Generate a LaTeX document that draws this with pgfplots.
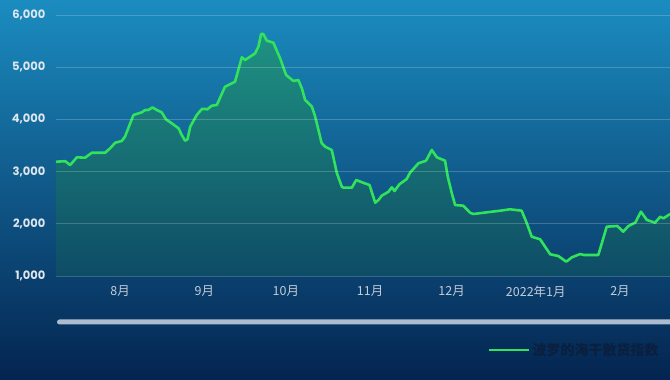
\documentclass[border=0pt]{standalone}
\usepackage{fontspec}
\setmainfont{Poppins}
\newfontfamily\cjk{Noto Sans CJK SC}
\usepackage{pgfplots}
\pgfplotsset{compat=1.18}
\usepackage{pgfplotstable}
\definecolor{bgtop}{RGB}{27,140,192}
\definecolor{bgbot}{RGB}{4,36,80}
\definecolor{areatop}{RGB}{31,146,130}
\definecolor{areabot}{RGB}{14,76,102}
\definecolor{lgreen}{RGB}{48,226,92}
\definecolor{ylab}{RGB}{222,230,238}
\definecolor{xlab}{RGB}{196,204,214}
\definecolor{scroll}{RGB}{172,188,208}
\definecolor{legtext}{RGB}{11,31,62}
\pgfplotstableread{
x y
7.4 3180
7.7 3190
10.8 3200
12.6 3126
15.1 3274
18.1 3266
20.6 3362
25.5 3362
27.3 3446
29.2 3554
31.6 3586
32.8 3670
35.9 4084
39.0 4136
40.2 4180
41.4 4180
42.9 4230
44.5 4180
46.3 4136
47.9 4000
50.0 3925
52.5 3830
53.7 3700
54.9 3592
55.8 3618
56.8 3860
59.2 4084
61.1 4200
62.3 4200
63.1 4193
64.7 4262
66.6 4276
69.6 4626
73.3 4722
75.8 5190
77.0 5138
80.7 5266
81.9 5393
82.9 5636
83.7 5636
85.0 5508
87.4 5470
89.9 5170
92.1 4850
94.8 4736
96.6 4755
97.9 4595
99.1 4372
101.6 4243
102.8 4052
105.2 3542
106.5 3477
108.9 3414
110.8 2967
112.6 2711
113.2 2692
116.3 2692
117.9 2839
120.0 2795
122.8 2743
124.9 2404
126.1 2456
127.3 2538
129.8 2615
131.0 2699
132.0 2628
133.8 2757
136.5 2858
137.7 2979
140.8 3159
143.6 3209
145.7 3414
147.6 3274
150.6 3209
151.6 2902
153.1 2584
154.3 2360
157.3 2347
159.8 2213
161.0 2188
170.9 2251
174.5 2278
178.8 2251
180.7 2010
182.5 1753
185.6 1703
189.3 1416
192.3 1383
195.2 1274
197.3 1358
200.3 1421
201.8 1402
207.0 1402
208.3 1626
210.1 1945
214.0 1958
216.2 1849
218.1 1958
220.6 2021
222.7 2232
224.9 2073
227.9 2021
229.8 2136
231.0 2105
233.4 2188
}\bdi
\begin{document}
\begin{tikzpicture}
\useasboundingbox (0,0) rectangle (670pt,380pt);
\shade[top color=bgtop, bottom color=bgbot] (0,0) rectangle (670pt,380pt);
\fill[scroll, rounded corners=2.5pt] (57pt,55.5pt) rectangle (676pt,60.5pt);
\begin{axis}[
  at={(56pt,104pt)}, anchor=south west,
  scale only axis, width=614pt, height=261pt,
  xmin=7.4, xmax=233.4, ymin=1000, ymax=6000,
  ytick={1000,2000,3000,4000,5000,6000},
  xtick={31,62,92,123,153,184,215},
  xticklabels={8月,9月,10月,11月,12月,2022年1月,2月},
  axis line style={draw=none},
  major tick length=0pt,
  ymajorgrids,
  grid style={white, opacity=0.2, line width=0.8pt},
  axis on top,
  /pgf/number format/assume math mode=true,
  /pgf/number format/1000 sep={,},
  yticklabel style={font=\bfseries\fontsize{11.5}{13}\selectfont, text=ylab, xshift=-7pt},
  xticklabel style={font=\cjk\fontsize{12.5}{14}\selectfont, text=xlab, yshift=-6pt},
  legend style={draw=none, fill=none, at={(0.99,-0.283)}, anchor=east,
    font=\cjk\bfseries\fontsize{14}{16}\selectfont, text=legtext},
  legend image code/.code={\draw[#1] (-6pt,0pt) -- (34pt,0pt);},
]
\addplot[draw=none, top color=areatop, bottom color=areabot, forget plot]
  table[x=x,y=y] {\bdi} -- (axis cs:233.4,1000) -- (axis cs:7.4,1000) -- cycle;
\addplot[lgreen, line width=2.6pt, line join=round] table[x=x,y=y] {\bdi};
\addlegendentry{波罗的海干散货指数}
\end{axis}
\end{tikzpicture}
\end{document}
